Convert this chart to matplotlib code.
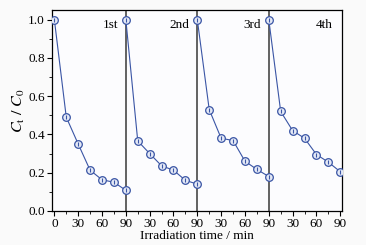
import matplotlib
matplotlib.use("Agg")
import matplotlib.pyplot as plt
from matplotlib.ticker import MultipleLocator

plt.rcParams['font.family'] = ['Liberation Serif', 'DejaVu Serif']
plt.rcParams['mathtext.fontset'] = 'stix'

# sampling times within one cycle (min)
times = [0, 15, 30, 45, 60, 75, 90]
cycle_labels = ["1st", "2nd", "3rd", "4th"]
run1 = [1.0, 0.49, 0.35, 0.213, 0.163, 0.150, 0.108]
run2 = [1.0, 0.366, 0.300, 0.236, 0.213, 0.160, 0.140]
run3 = [1.0, 0.530, 0.380, 0.368, 0.260, 0.217, 0.180]
run4 = [1.0, 0.520, 0.420, 0.380, 0.295, 0.255, 0.205]
runs = [run1, run2, run3, run4]
tick_labels = ["0", "30", "60", "90", "30", "60", "90", "30", "60", "90", "30", "60", "90"]

blue = "#3a55a5"

fig = plt.figure(figsize=(3.66, 2.45), dpi=100)
fig.patch.set_facecolor("#fafafa")
ax = fig.add_axes([0.142, 0.139, 0.792, 0.82])
ax.set_facecolor("#fcfcfe")

for k, run in enumerate(runs):
    xs = [t + 90 * k for t in times]
    ax.plot(xs, run, color=blue, lw=0.8, marker="o", ms=5.5,
            mfc="#e4e9f6", mec=blue, mew=0.9, zorder=3)
    # the small vertical stroke inside each circle
    ax.plot(xs, run, ls="none", marker="|", ms=3.5, mec=blue, mew=0.8, zorder=4)
    ax.text(90 * k + 80, 0.97, cycle_labels[k], ha="right", va="center",
            fontsize=9.5)
    if k > 0:
        ax.axvline(90 * k, color="#555555", lw=1.3, zorder=2)

ax.set_xlim(-3, 362)
ax.set_ylim(0, 1.05)
ax.set_xticks(range(0, 361, 30))
ax.set_xticklabels(tick_labels)
ax.xaxis.set_minor_locator(MultipleLocator(15))
ax.yaxis.set_major_locator(MultipleLocator(0.2))
ax.yaxis.set_minor_locator(MultipleLocator(0.1))
ax.yaxis.set_major_formatter(plt.FormatStrFormatter("%.1f"))
ax.tick_params(which="both", direction="out", labelsize=9.5, pad=1.5)
ax.tick_params(which="major", length=3.5, width=0.8)
ax.tick_params(which="minor", length=2, width=0.6)
for s in ax.spines.values():
    s.set_linewidth(0.9)

ax.set_xlabel("Irradiation time / min", fontsize=9.5, labelpad=0)
ax.set_ylabel(r"$C_\mathrm{t}\ /\ C_0$", fontsize=11.5, labelpad=1)

fig.savefig("out.png", dpi=100, facecolor=fig.get_facecolor())
